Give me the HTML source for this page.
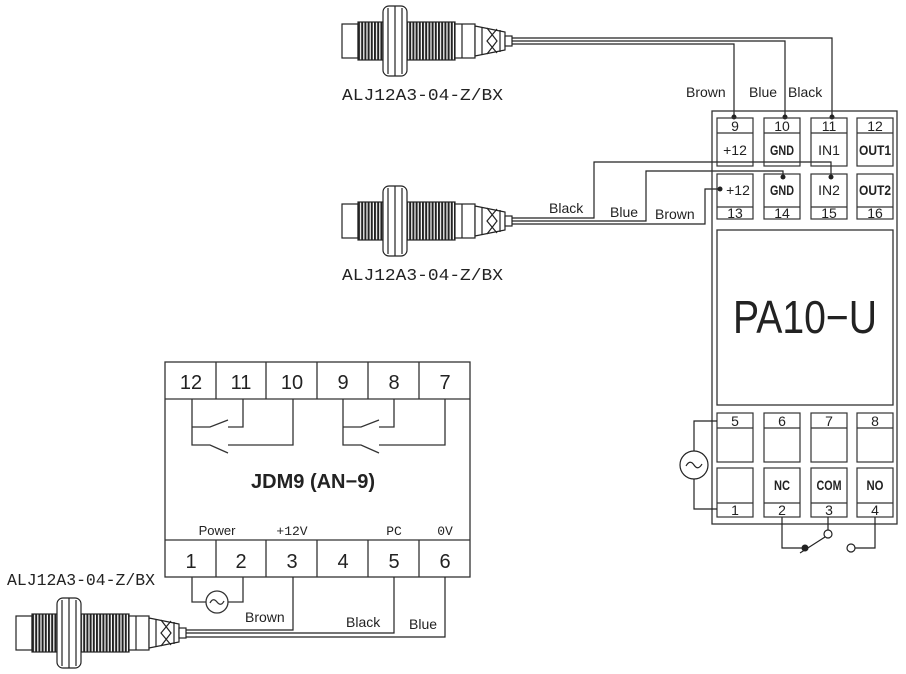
<!DOCTYPE html>
<html><head><meta charset="utf-8"><style>
html,body{margin:0;padding:0;background:#fff;}
svg{display:block;}
text{font-family:"Liberation Sans",sans-serif;fill:#222;}
.m{font-family:"Liberation Mono",monospace;}
</style></head><body>
<svg width="906" height="674" viewBox="0 0 906 674" xmlns="http://www.w3.org/2000/svg">
<defs>
<pattern id="thr" x="0" y="0" width="3.2" height="10" patternUnits="userSpaceOnUse">
<rect width="3.2" height="10" fill="#fff"/><rect width="2" height="10" fill="#222"/>
</pattern>
<g id="sensor" stroke="#222" stroke-width="1.2" fill="#fff">
<rect x="0" y="-17" width="16" height="34"/>
<rect x="16" y="-19" width="97" height="38" fill="url(#thr)"/>
<rect x="41" y="-35" width="24" height="70" rx="6"/>
<line x1="53" y1="-35" x2="53" y2="35"/>
<line x1="46" y1="-33" x2="46" y2="33"/>
<line x1="60" y1="-33" x2="60" y2="33"/>
<rect x="113" y="-17" width="20" height="34"/>
<line x1="120" y1="-17" x2="120" y2="17"/>
<polygon points="133,-15 163,-9 163,9 133,15"/>
<path d="M140,-14 V14 M145,-13 L155,0 L145,13 M155,-12 L145,0 L155,12 M158,-11 V11" fill="none"/>
<rect x="163" y="-5" width="7" height="10"/>
</g>
</defs>

<!-- Sensor 1 -->
<use href="#sensor" x="342" y="41"/>
<text class="m" x="342" y="100" font-size="17" textLength="161" lengthAdjust="spacingAndGlyphs">ALJ12A3-04-Z/BX</text>
<g stroke="#222" stroke-width="1.2" fill="none">
<path d="M512,38 H832 V117"/>
<path d="M512,41 H785 V117"/>
<path d="M512,44 H734 V117"/>
</g>
<text x="686" y="97" font-size="14">Brown</text>
<text x="749" y="97" font-size="14">Blue</text>
<text x="788" y="97" font-size="14">Black</text>
<g fill="#222"><circle cx="734" cy="117" r="2.5"/><circle cx="785" cy="117" r="2.5"/><circle cx="832" cy="117" r="2.5"/></g>

<!-- Sensor 2 -->
<use href="#sensor" x="342" y="221"/>
<text class="m" x="342" y="280" font-size="17" textLength="161" lengthAdjust="spacingAndGlyphs">ALJ12A3-04-Z/BX</text>
<g stroke="#222" stroke-width="1.2" fill="none">
<path d="M512,218 H594 V162 H831 V177"/>
<path d="M512,221 H646 V171 H783 V177"/>
<path d="M512,224 H705 V189 H720"/>
</g>
<text x="549" y="213" font-size="14">Black</text>
<text x="610" y="217" font-size="14">Blue</text>
<text x="655" y="219" font-size="14">Brown</text>
<g fill="#222"><circle cx="831" cy="177" r="2.5"/><circle cx="783" cy="177" r="2.5"/><circle cx="720" cy="189" r="2.5"/></g>

<!-- PA10-U -->
<g stroke="#333" stroke-width="1.3" fill="none">
<rect x="712" y="111" width="185" height="413"/>
<rect x="717" y="230" width="176" height="175"/>
</g>
<g stroke="#333" stroke-width="1.2" fill="none">
<!-- row1 -->
<rect x="717" y="118" width="36" height="48"/><line x1="717" y1="133" x2="753" y2="133"/>
<rect x="764" y="118" width="36" height="48"/><line x1="764" y1="133" x2="800" y2="133"/>
<rect x="811" y="118" width="36" height="48"/><line x1="811" y1="133" x2="847" y2="133"/>
<rect x="857" y="118" width="36" height="48"/><line x1="857" y1="133" x2="893" y2="133"/>
<!-- row2 -->
<rect x="717" y="174" width="36" height="45"/><line x1="717" y1="207" x2="753" y2="207"/>
<rect x="764" y="174" width="36" height="45"/><line x1="764" y1="207" x2="800" y2="207"/>
<rect x="811" y="174" width="36" height="45"/><line x1="811" y1="207" x2="847" y2="207"/>
<rect x="857" y="174" width="36" height="45"/><line x1="857" y1="207" x2="893" y2="207"/>
<!-- row3 -->
<rect x="717" y="413" width="36" height="49"/><line x1="717" y1="428" x2="753" y2="428"/>
<rect x="764" y="413" width="36" height="49"/><line x1="764" y1="428" x2="800" y2="428"/>
<rect x="811" y="413" width="36" height="49"/><line x1="811" y1="428" x2="847" y2="428"/>
<rect x="857" y="413" width="36" height="49"/><line x1="857" y1="428" x2="893" y2="428"/>
<!-- row4 -->
<rect x="717" y="468" width="36" height="49"/><line x1="717" y1="503" x2="753" y2="503"/>
<rect x="764" y="468" width="36" height="49"/><line x1="764" y1="503" x2="800" y2="503"/>
<rect x="811" y="468" width="36" height="49"/><line x1="811" y1="503" x2="847" y2="503"/>
<rect x="857" y="468" width="36" height="49"/><line x1="857" y1="503" x2="893" y2="503"/>
</g>
<g font-size="14" text-anchor="middle">
<text x="735" y="131">9</text><text x="782" y="131">10</text><text x="829" y="131">11</text><text x="875" y="131">12</text>
<text x="735" y="155">+12</text><text x="782" y="155" font-weight="bold" textLength="24" lengthAdjust="spacingAndGlyphs">GND</text><text x="829" y="155">IN1</text><text x="875" y="155" font-weight="bold" textLength="32" lengthAdjust="spacingAndGlyphs">OUT1</text>
<text x="738" y="195">+12</text><text x="782" y="195" font-weight="bold" textLength="24" lengthAdjust="spacingAndGlyphs">GND</text><text x="829" y="195">IN2</text><text x="875" y="195" font-weight="bold" textLength="32" lengthAdjust="spacingAndGlyphs">OUT2</text>
<text x="735" y="218">13</text><text x="782" y="218">14</text><text x="829" y="218">15</text><text x="875" y="218">16</text>
<text x="735" y="426">5</text><text x="782" y="426">6</text><text x="829" y="426">7</text><text x="875" y="426">8</text>
<text x="782" y="490" font-weight="bold" textLength="16" lengthAdjust="spacingAndGlyphs">NC</text><text x="829" y="490" font-weight="bold" textLength="25" lengthAdjust="spacingAndGlyphs">COM</text><text x="875" y="490" font-weight="bold" textLength="17" lengthAdjust="spacingAndGlyphs">NO</text>
<text x="735" y="515">1</text><text x="782" y="515">2</text><text x="829" y="515">3</text><text x="875" y="515">4</text>
</g>
<text x="733" y="333" font-size="46" textLength="144" lengthAdjust="spacingAndGlyphs">PA10−U</text>

<g stroke="#222" stroke-width="1.2" fill="none">
<path d="M717,421 H694 V451"/>
<circle cx="694" cy="465" r="14"/>
<path d="M686,466 Q690,459 694,465 Q698,471 702,464"/>
<path d="M694,479 V509 H717"/>
<path d="M782,517 V548 H805"/>
<line x1="800" y1="553" x2="825" y2="537"/>
<circle cx="828" cy="534" r="4"/>
<line x1="828" y1="517" x2="828" y2="530"/>
<circle cx="851" cy="548" r="4"/>
<path d="M855,548 H875 V517"/>
</g>
<circle cx="805" cy="548" r="3.5" fill="#222"/>

<!-- JDM9 -->
<g stroke="#333" stroke-width="1.3" fill="none">
<rect x="165" y="362" width="305" height="215"/>
<line x1="165" y1="399" x2="470" y2="399"/>
<line x1="165" y1="540" x2="470" y2="540"/>
<path d="M216,362V399 M266,362V399 M317,362V399 M368,362V399 M419,362V399"/>
<path d="M216,540V577 M266,540V577 M317,540V577 M368,540V577 M419,540V577"/>
<!-- switches -->
<path d="M192,399 V445 H210 L228,453"/>
<path d="M192,427 H210 L228,420"/>
<path d="M228,445 H293 V399"/>
<path d="M243,399 V427 H228"/>
<path d="M343,399 V445 H361 L379,453"/>
<path d="M343,427 H361 L379,420"/>
<path d="M379,445 H445 V399"/>
<path d="M394,399 V427 H379"/>
<!-- power -->
<path d="M192,577 V602 H206 M228,602 H243 V577"/>
<circle cx="217" cy="602" r="11"/>
<path d="M210,603 Q213,597 217,602 Q221,607 224,601"/>
</g>
<g font-size="20" text-anchor="middle">
<text x="191" y="389">12</text><text x="241" y="389">11</text><text x="292" y="389">10</text><text x="343" y="389">9</text><text x="394" y="389">8</text><text x="445" y="389">7</text>
<text x="191" y="568">1</text><text x="241" y="568">2</text><text x="292" y="568">3</text><text x="343" y="568">4</text><text x="394" y="568">5</text><text x="445" y="568">6</text>
</g>
<text x="313" y="488" font-size="20" text-anchor="middle" font-weight="bold" textLength="124" lengthAdjust="spacingAndGlyphs">JDM9 (AN−9)</text>
<g font-size="13" text-anchor="middle">
<text x="217" y="535">Power</text>
<text class="m" x="292" y="535">+12V</text>
<text class="m" x="394" y="535">PC</text>
<text class="m" x="445" y="535">0V</text>
</g>

<!-- Sensor 3 -->
<use href="#sensor" x="16" y="633"/>
<text class="m" x="7" y="585" font-size="17" textLength="148" lengthAdjust="spacingAndGlyphs">ALJ12A3-04-Z/BX</text>
<g stroke="#222" stroke-width="1.2" fill="none">
<path d="M186,630 H293 V577"/>
<path d="M186,633 H394 V577"/>
<path d="M186,637 H445 V577"/>
</g>
<text x="245" y="622" font-size="14">Brown</text>
<text x="346" y="627" font-size="14">Black</text>
<text x="409" y="629" font-size="14">Blue</text>
</svg>
</body></html>
